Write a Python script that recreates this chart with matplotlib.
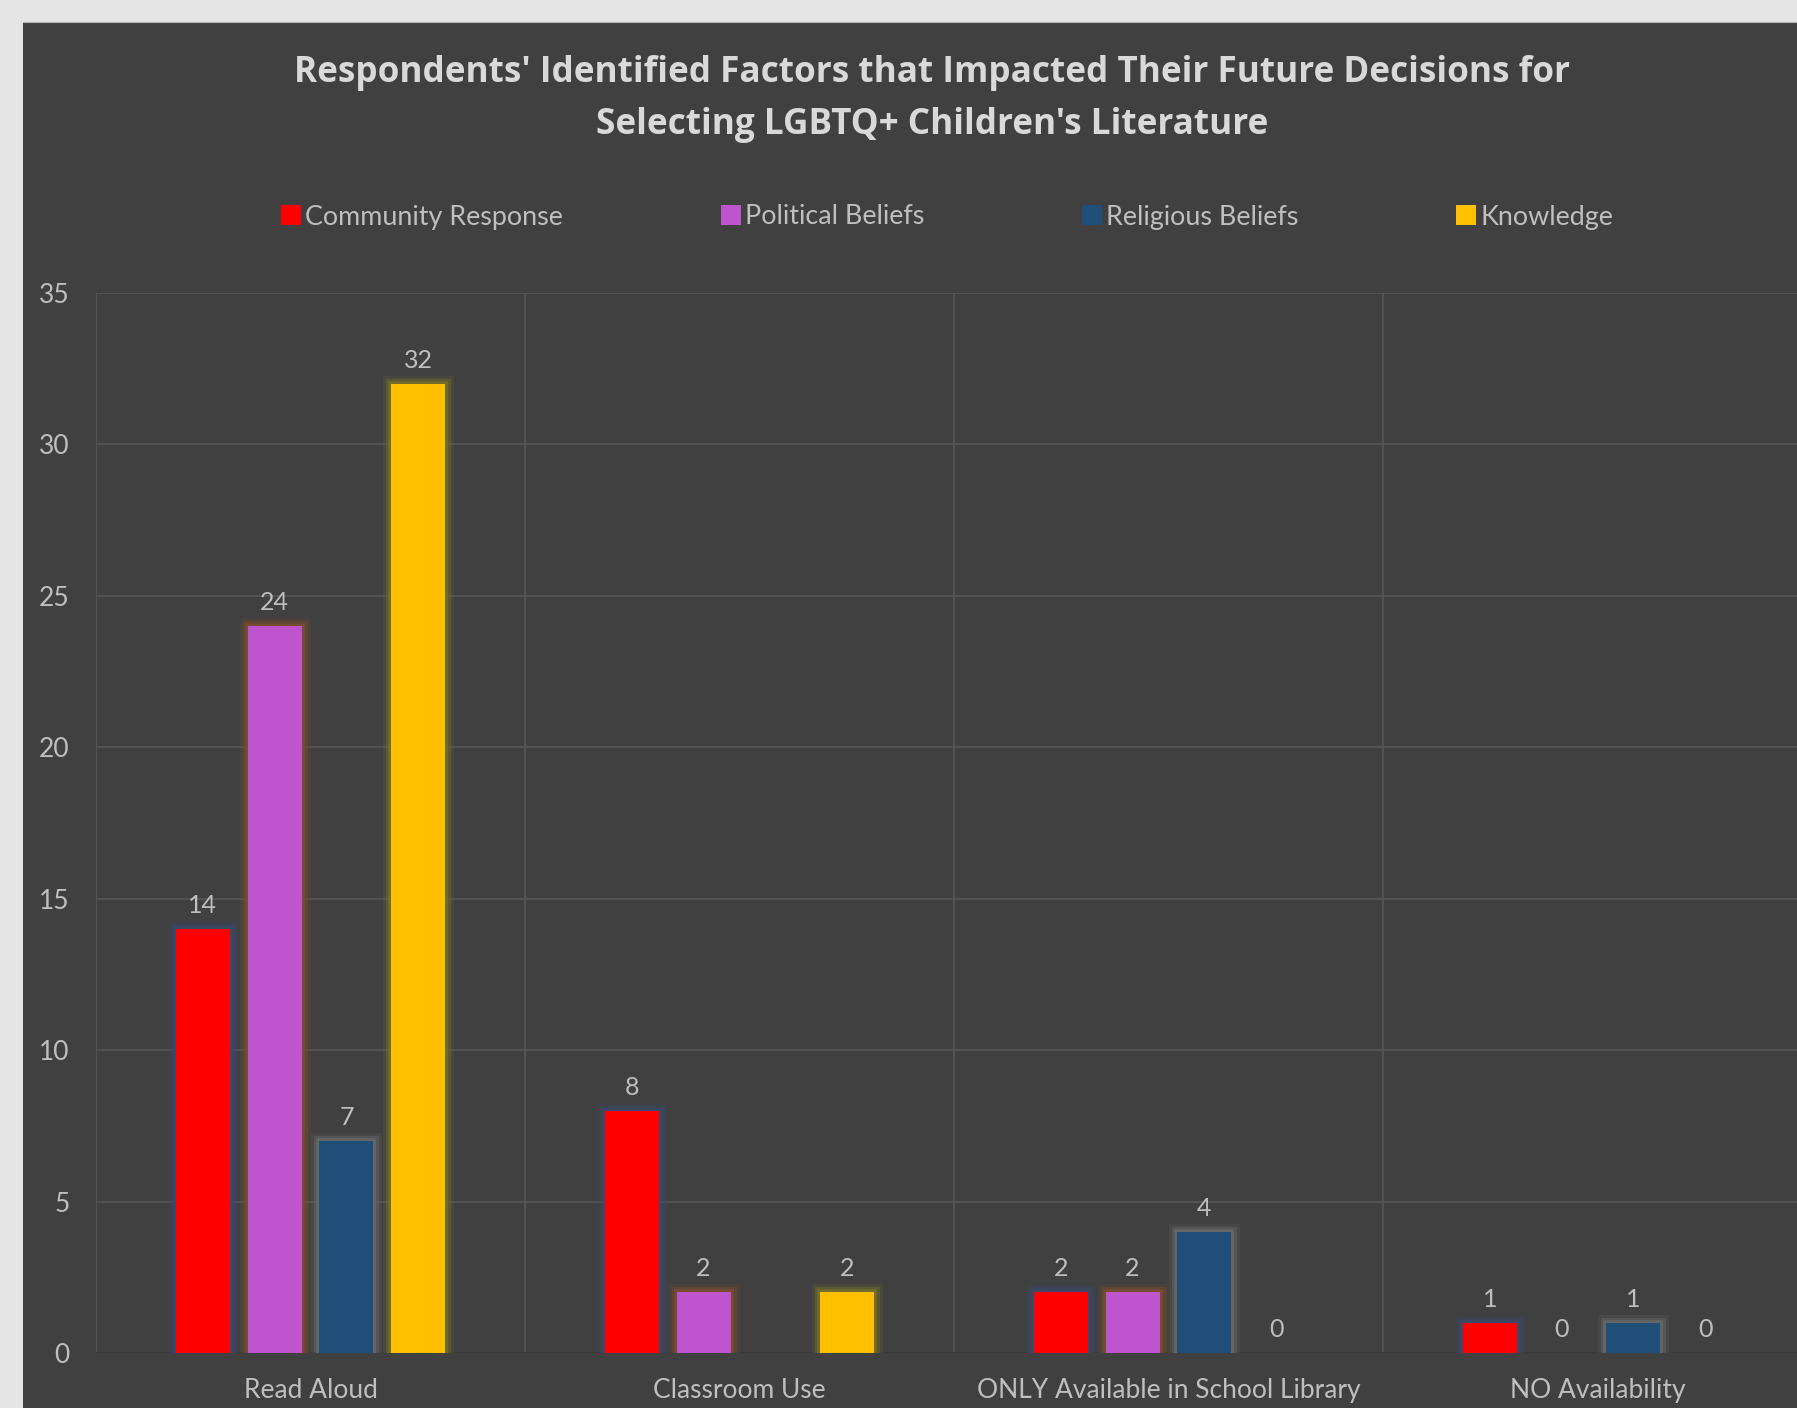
import numpy as np
import matplotlib
matplotlib.use("Agg")
import matplotlib.pyplot as plt
import matplotlib.patheffects as pe
from matplotlib.patches import Patch, Rectangle
from matplotlib.lines import Line2D

categories = ["Read Aloud", "Classroom Use", "ONLY Available in School Library", "NO Availability"]
series_names = ["Community Response", "Political Beliefs", "Religious Beliefs", "Knowledge"]
community = [14, 8, 2, 1]
political = [24, 2, 2, 0]
religious = [7, np.nan, 4, 1]
knowledge = [32, 2, 0, 0]
yticks = [0, 5, 10, 15, 20, 25, 30, 35]
title = "Respondents' Identified Factors that Impacted Their Future Decisions for\nSelecting LGBTQ+ Children's Literature"

colors = ["#FF0000", "#BF55CE", "#1F4E79", "#FFC000"]
glows = ["#3B4A6B", "#7A4E2E", "#6A6A6A", "#77722A"]

W, H = 1797, 1408
fig = plt.figure(figsize=(W / 100, H / 100), dpi=100)
fig.patch.set_facecolor("#E5E5E5")

# dark chart panel
fig.patches.append(Rectangle((23 / W, 0), 1 - 23 / W, 1 - 22 / H, transform=fig.transFigure,
                             facecolor="#404040", edgecolor="none", zorder=-10))
fig.lines.append(Line2D([23 / W, 1], [1 - 21.5 / H] * 2, transform=fig.transFigure,
                        color="#B5B5B5", lw=0.8, zorder=-9))

FONT = "Lato"
TXT = "#BFBFBF"

ax = fig.add_axes([96 / W, 55 / H, (1812 - 96) / W, (1353 - 293) / H])
ax.set_facecolor("none")
ax.set_zorder(2)

x = np.arange(len(categories))
pitch = 0.1675
bw = 0.1256
data = [community, political, religious, knowledge]
for i, (vals, c, g, name) in enumerate(zip(data, colors, glows, series_names)):
    pos = x + (i - 1.5) * pitch
    vals_arr = np.array(vals, dtype=float)
    bars = ax.bar(pos, np.nan_to_num(vals_arr), width=bw, color=c, label=name, zorder=3,
                  linewidth=0)
    for b, v in zip(bars, vals_arr):
        if np.isnan(v):
            b.set_visible(False)
            continue
        if v > 0:
            b.set_path_effects([
                pe.Stroke(linewidth=12, foreground=g, alpha=0.2),
                pe.Stroke(linewidth=8, foreground=g, alpha=0.4),
                pe.Stroke(linewidth=4, foreground=g, alpha=0.8),
                pe.Normal()])
        ax.annotate(f"{int(v)}", (b.get_x() + b.get_width() / 2, v), xytext=(0, 17),
                    textcoords="offset points", ha="center", va="center",
                    color=TXT, fontsize=18, family=FONT, zorder=4)

ax.set_xlim(-0.5, 3.5)
ax.set_ylim(0, 35)
ax.set_yticks(yticks)
ax.set_yticklabels([str(t) for t in yticks])
ax.set_xticks(x)
ax.set_xticklabels(categories)
ax.set_xticks(np.arange(-0.5, 4.0, 1.0), minor=True)
ax.tick_params(axis="both", which="both", length=0, colors=TXT, labelsize=19)
ax.tick_params(axis="y", pad=19)
ax.tick_params(axis="x", pad=18)
for lab in ax.get_xticklabels() + ax.get_yticklabels():
    lab.set_family(FONT)
ax.grid(axis="y", which="major", color="#585858", lw=1.1, zorder=1)
ax.grid(axis="x", which="minor", color="#585858", lw=1.1, zorder=1)
ax.grid(axis="x", which="major", visible=False)
for s in ax.spines.values():
    s.set_visible(False)
ax.axhline(0, color="#363636", lw=1.2, zorder=2)

fig.text(932 / W, 1 - 99 / H, title, ha="center", va="center", color="#D9D9D9",
         fontsize=25.3, fontweight="bold", family="Open Sans", linespacing=1.62)

handles = [Patch(facecolor=c, edgecolor="none") for c in colors]
leg = fig.legend(handles, series_names, loc="center", bbox_to_anchor=(947 / W, 1 - 217 / H),
                 ncol=4, frameon=False, prop={"family": FONT, "size": 19.4},
                 handlelength=0.75, handleheight=0.75, handletextpad=0.15,
                 columnspacing=5.85)
for t in leg.get_texts():
    t.set_color(TXT)

fig.savefig("out.png", dpi=100, facecolor=fig.get_facecolor())
